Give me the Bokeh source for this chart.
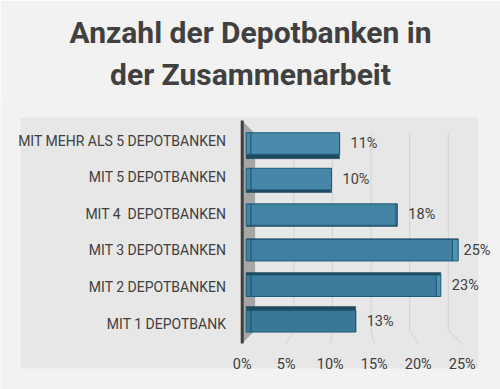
import numpy as np
from bokeh.plotting import figure
from bokeh.models import Range1d, Title
from bokeh.core.properties import value
from bokeh.embed import file_html
from bokeh.resources import INLINE

# ---------------- data ----------------
categories = ["MIT 1 DEPOTBANK", "MIT 2 DEPOTBANKEN", "MIT 3 DEPOTBANKEN",
              "MIT 4\u00a0 DEPOTBANKEN", "MIT 5 DEPOTBANKEN", "MIT MEHR ALS 5 DEPOTBANKEN"]
shares = [13, 23, 25, 18, 10, 11]
value_labels = ["13%", "23%", "25%", "18%", "10%", "11%"]
x_ticks = [0, 5, 10, 15, 20, 25]
x_tick_labels = ["0%", "5%", "10%", "15%", "20%", "25%"]
title_lines = ["Anzahl der Depotbanken in", "der Zusammenarbeit"]

# ---------------- layout / style ----------------
W, H = 500, 389
FRAME_TOP = 96
FONT = "Roboto"
TXT = "#404040"

# pixel mapping (figure coordinates) used to build the ranges
BAR_X0, BAR_SX = 250.5, 8.05       # bars (front face)
FRONT_X0, FRONT_SX = 241.7, 8.8    # front edge of floor / tick labels
BACK_X0, BACK_SX = 254.6, 7.73     # back wall (gridlines)
ROW_Y0, ROW_SY = 320.8, 35.56      # rows of bars
LAB_Y0, LAB_SY = 323.3, 36.66      # category labels


def xr(x0, sx):
    return Range1d((0 - x0) / sx, (W - x0) / sx)


def yr(y0, sy):
    return Range1d((y0 - H) / sy, (y0 - FRAME_TOP) / sy)


def to_front(t):
    return (BACK_X0 + BACK_SX * t - FRONT_X0) / FRONT_SX


def py(px):
    return (ROW_Y0 - px) / ROW_SY


def pxx(px):
    return (px - BAR_X0) / BAR_SX


p = figure(width=W, height=H, output_backend="svg", toolbar_location=None,
           x_range=xr(BAR_X0, BAR_SX), y_range=yr(ROW_Y0, ROW_SY),
           x_axis_location=None, y_axis_location=None, title_location=None,
           min_border_left=0, min_border_right=0, min_border_bottom=0,
           min_border_top=FRAME_TOP,
           background_fill_color="#f2f2f2", border_fill_color="#f2f2f2",
           outline_line_color=None)
p.grid.visible = False
p.extra_x_ranges = {"front": xr(FRONT_X0, FRONT_SX), "back": xr(BACK_X0, BACK_SX)}
p.extra_y_ranges = {"lab": yr(LAB_Y0, LAB_SY)}

# titles (second line nearest to the plot)
t2 = Title(text=title_lines[1], align="center", text_font=FONT, text_font_size="30px",
           text_font_style="bold", text_color=TXT, standoff=10)
t1 = Title(text=title_lines[0], align="center", text_font=FONT, text_font_size="30px",
           text_font_style="bold", text_color=TXT, standoff=0)
p.add_layout(t2, "above")
p.add_layout(t1, "above")

# plot area background
p.quad(left=pxx(20), right=pxx(478), bottom=py(368), top=py(117),
       fill_color="#e7e7e7", line_color=None)

# 3D wall / floor geometry (rows units)
WALL_TOP_FRONT, WALL_TOP_BACK = py(120), py(133.5)
FLOOR_BACK, FLOOR_FRONT = py(330), py(343)

# gridlines on back wall + floor
gt = np.array(x_ticks[1:], dtype=float)
p.segment(x0=gt, x1=gt, y0=WALL_TOP_BACK, y1=FLOOR_BACK, x_range_name="back",
          line_color="#d2d2d2", line_width=1)
p.segment(x0=to_front(gt), x1=gt, y0=FLOOR_BACK, y1=FLOOR_FRONT, x_range_name="front",
          line_color="#d2d2d2", line_width=1)

# side wall
p.patch(x=[0, to_front(0), to_front(0), 0],
        y=[WALL_TOP_FRONT, WALL_TOP_BACK, FLOOR_BACK, FLOOR_FRONT],
        x_range_name="front", fill_color="#a6a6a6", line_color=None)
# vertical axis line
p.segment(x0=[0], x1=[0], y0=[WALL_TOP_FRONT], y1=[FLOOR_FRONT], x_range_name="front",
          line_color="#404040", line_width=3)

# bars
n = len(categories)
ypos = np.arange(n, dtype=float)
vals = np.array(shares, dtype=float)
FH = 21.5 / ROW_SY                      # front face height
depth = 1.7 * (ypos - 2.4) / ROW_SY     # visible top/bottom face
left_face = 4.8 / BAR_SX
right_face = np.maximum(0, 0.65 * (vals - 15.8)) / BAR_SX

top_col = np.array([0x4a, 0x8b, 0xab])
bot_col = np.array([0x3a, 0x78, 0x97])
cols = ["#%02x%02x%02x" % tuple((bot_col + (top_col - bot_col) * k / (n - 1)).astype(int))
        for k in range(n)]

s_bottom = np.where(depth > 0, ypos - FH / 2 - depth, ypos + FH / 2)
s_top = np.where(depth > 0, ypos - FH / 2, ypos + FH / 2 - depth)
p.quad(left=-left_face, right=vals + right_face, bottom=s_bottom, top=s_top,
       fill_color="#1f4b60", line_color="#1c4558", line_width=0.5)
p.quad(left=-left_face, right=0, bottom=ypos - FH / 2, top=ypos + FH / 2,
       fill_color=cols, line_color="#1d5a78", line_width=1)
p.quad(left=vals, right=vals + right_face, bottom=ypos - FH / 2, top=ypos + FH / 2,
       fill_color="#4f93b4", line_color="#1d5a78", line_width=1)
p.quad(left=0, right=vals, bottom=ypos - FH / 2, top=ypos + FH / 2,
       fill_color=cols, line_color="#1d5a78", line_width=1)

# value labels
lab_x = np.minimum(vals + right_face + 11 / BAR_SX, pxx(W - 37))
p.text(x=lab_x, y=ypos, text=value_labels, text_align="left", text_baseline="middle",
       text_font=value(FONT), text_font_size="14.5px", text_color=TXT)

# category labels
p.text(x=[0] * n, y=ypos, text=categories, x_range_name="front", y_range_name="lab",
       x_offset=-16, text_align="right", text_baseline="middle",
       text_font=value(FONT), text_font_size="14px", text_color=TXT)

# x tick labels
p.text(x=x_ticks, y=[py(364)] * len(x_ticks), text=x_tick_labels, x_range_name="front",
       text_align="center", text_baseline="middle",
       text_font=value(FONT), text_font_size="14.5px", text_color=TXT)

open("out.html", "w").write(file_html(p, INLINE))
